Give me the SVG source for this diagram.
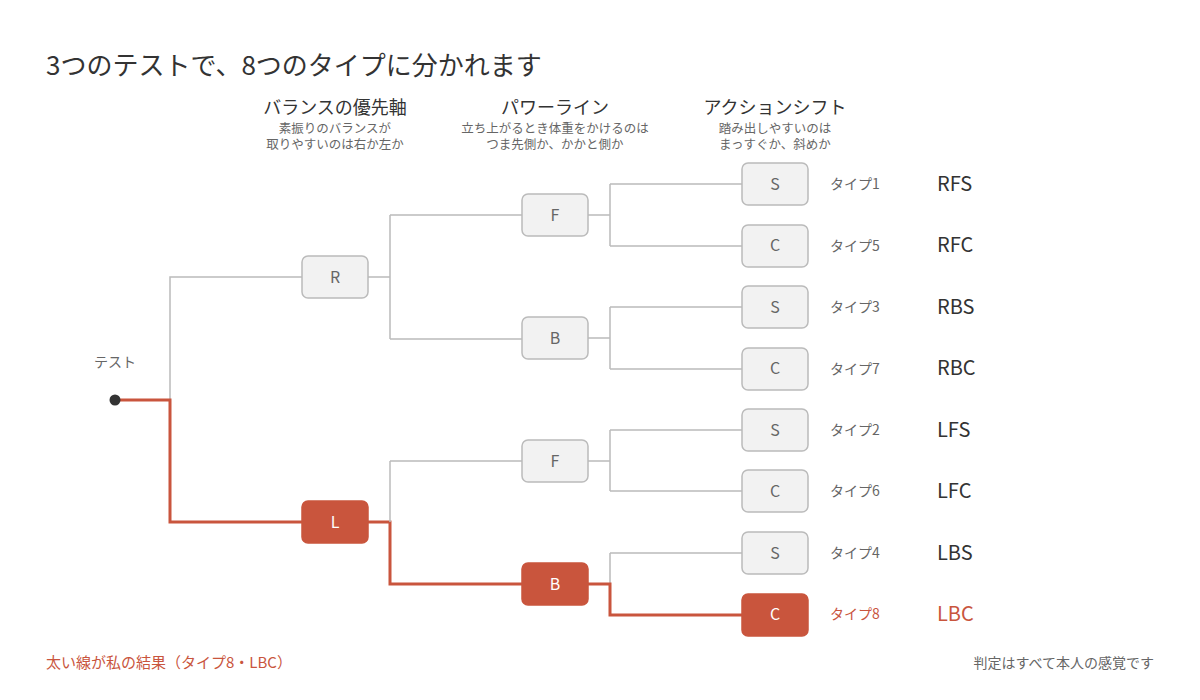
<svg xmlns="http://www.w3.org/2000/svg" width="1200" height="700" viewBox="0 0 1200 700">
<style>
text{font-family:"Noto Sans CJK JP","Noto Sans",sans-serif}
.ln{fill:none;stroke:#bbbbbb;stroke-width:1.5}
.hl{fill:none;stroke:#c9553d;stroke-width:3}
.nd rect{fill:#f2f2f2;stroke:#bbbbbb;stroke-width:1.5}
.nd text{fill:#666;font-size:16px;text-anchor:middle}
.on rect{fill:#c9553d;stroke:#c9553d}
.on text{fill:#fff}
.h{font-size:18px;fill:#333;text-anchor:middle}
.s{font-size:12.5px;fill:#666;text-anchor:middle}
.t{font-size:14px;fill:#666}
.c{font-size:20px;fill:#333}
</style>
<rect width="1200" height="700" fill="#fff"/>
<text x="46" y="75" font-size="26" fill="#333">3つのテストで、8つのタイプに分かれます</text>
<text class="h" x="335" y="114">バランスの優先軸</text>
<text class="s" x="335" y="133">素振りのバランスが</text>
<text class="s" x="335" y="149">取りやすいのは右か左か</text>
<text class="h" x="555" y="114">パワーライン</text>
<text class="s" x="555" y="133">立ち上がるとき体重をかけるのは</text>
<text class="s" x="555" y="149">つま先側か、かかと側か</text>
<text class="h" x="775" y="114">アクションシフト</text>
<text class="s" x="775" y="133">踏み出しやすいのは</text>
<text class="s" x="775" y="149">まっすぐか、斜めか</text>
<text class="t" x="115" y="367" text-anchor="middle">テスト</text>
<g id="connectors">
<path class="ln" d="M170 400V277H302M368 277H390M390 215V339M390 215H522M390 339H522M390 461H522M588 215H610M610 184V246M610 184H742M610 246H742M588 338H610M610 307V369M610 307H742M610 369H742M588 461H610M610 430V491M610 430H742M610 491H742M610 553H742M610 553V584"/>
<path class="hl" d="M115 400H170V522H302M368 522H390V584H522M588 584H610V615H742"/>
<path class="ln" d="M390 461V522"/>
</g>
<circle cx="115" cy="400" r="5.5" fill="#333"/>
<g id="nR" class="nd"><rect x="302" y="256" width="66" height="42" rx="6"/><text x="335" y="283">R</text></g>
<g id="nL" class="nd on"><rect x="302" y="501" width="66" height="42" rx="6"/><text x="335" y="528">L</text></g>
<g id="nRF" class="nd"><rect x="522" y="194" width="66" height="42" rx="6"/><text x="555" y="221">F</text></g>
<g id="nRB" class="nd"><rect x="522" y="317" width="66" height="42" rx="6"/><text x="555" y="344">B</text></g>
<g id="nLF" class="nd"><rect x="522" y="440" width="66" height="42" rx="6"/><text x="555" y="467">F</text></g>
<g id="nLB" class="nd on"><rect x="522" y="563" width="66" height="42" rx="6"/><text x="555" y="590">B</text></g>
<g id="l1" class="nd"><rect x="742" y="163" width="66" height="42" rx="6"/><text x="775" y="190">S</text></g>
<g id="l5" class="nd"><rect x="742" y="225" width="66" height="42" rx="6"/><text x="775" y="251">C</text></g>
<g id="l3" class="nd"><rect x="742" y="286" width="66" height="42" rx="6"/><text x="775" y="313">S</text></g>
<g id="l7" class="nd"><rect x="742" y="348" width="66" height="42" rx="6"/><text x="775" y="374">C</text></g>
<g id="l2" class="nd"><rect x="742" y="409" width="66" height="42" rx="6"/><text x="775" y="436">S</text></g>
<g id="l6" class="nd"><rect x="742" y="470" width="66" height="42" rx="6"/><text x="775" y="497">C</text></g>
<g id="l4" class="nd"><rect x="742" y="532" width="66" height="42" rx="6"/><text x="775" y="559">S</text></g>
<g id="l8" class="nd on"><rect x="742" y="594" width="66" height="42" rx="6"/><text x="775" y="620">C</text></g>
<g class="t">
<text x="830" y="189">タイプ1</text><text x="830" y="251">タイプ5</text><text x="830" y="312">タイプ3</text><text x="830" y="374">タイプ7</text>
<text x="830" y="435">タイプ2</text><text x="830" y="496">タイプ6</text><text x="830" y="558">タイプ4</text><text x="830" y="619" fill="#c9553d">タイプ8</text>
</g>
<g class="c">
<text x="937" y="191">RFS</text><text x="937" y="252">RFC</text><text x="937" y="314">RBS</text><text x="937" y="375">RBC</text>
<text x="937" y="437">LFS</text><text x="937" y="498">LFC</text><text x="937" y="560">LBS</text><text x="937" y="621" fill="#c9553d">LBC</text>
</g>
<text x="46" y="668" font-size="15" fill="#c9553d">太い線が私の結果（タイプ8・LBC）</text>
<text x="1154" y="668" font-size="14" fill="#666" text-anchor="end">判定はすべて本人の感覚です</text>
</svg>
